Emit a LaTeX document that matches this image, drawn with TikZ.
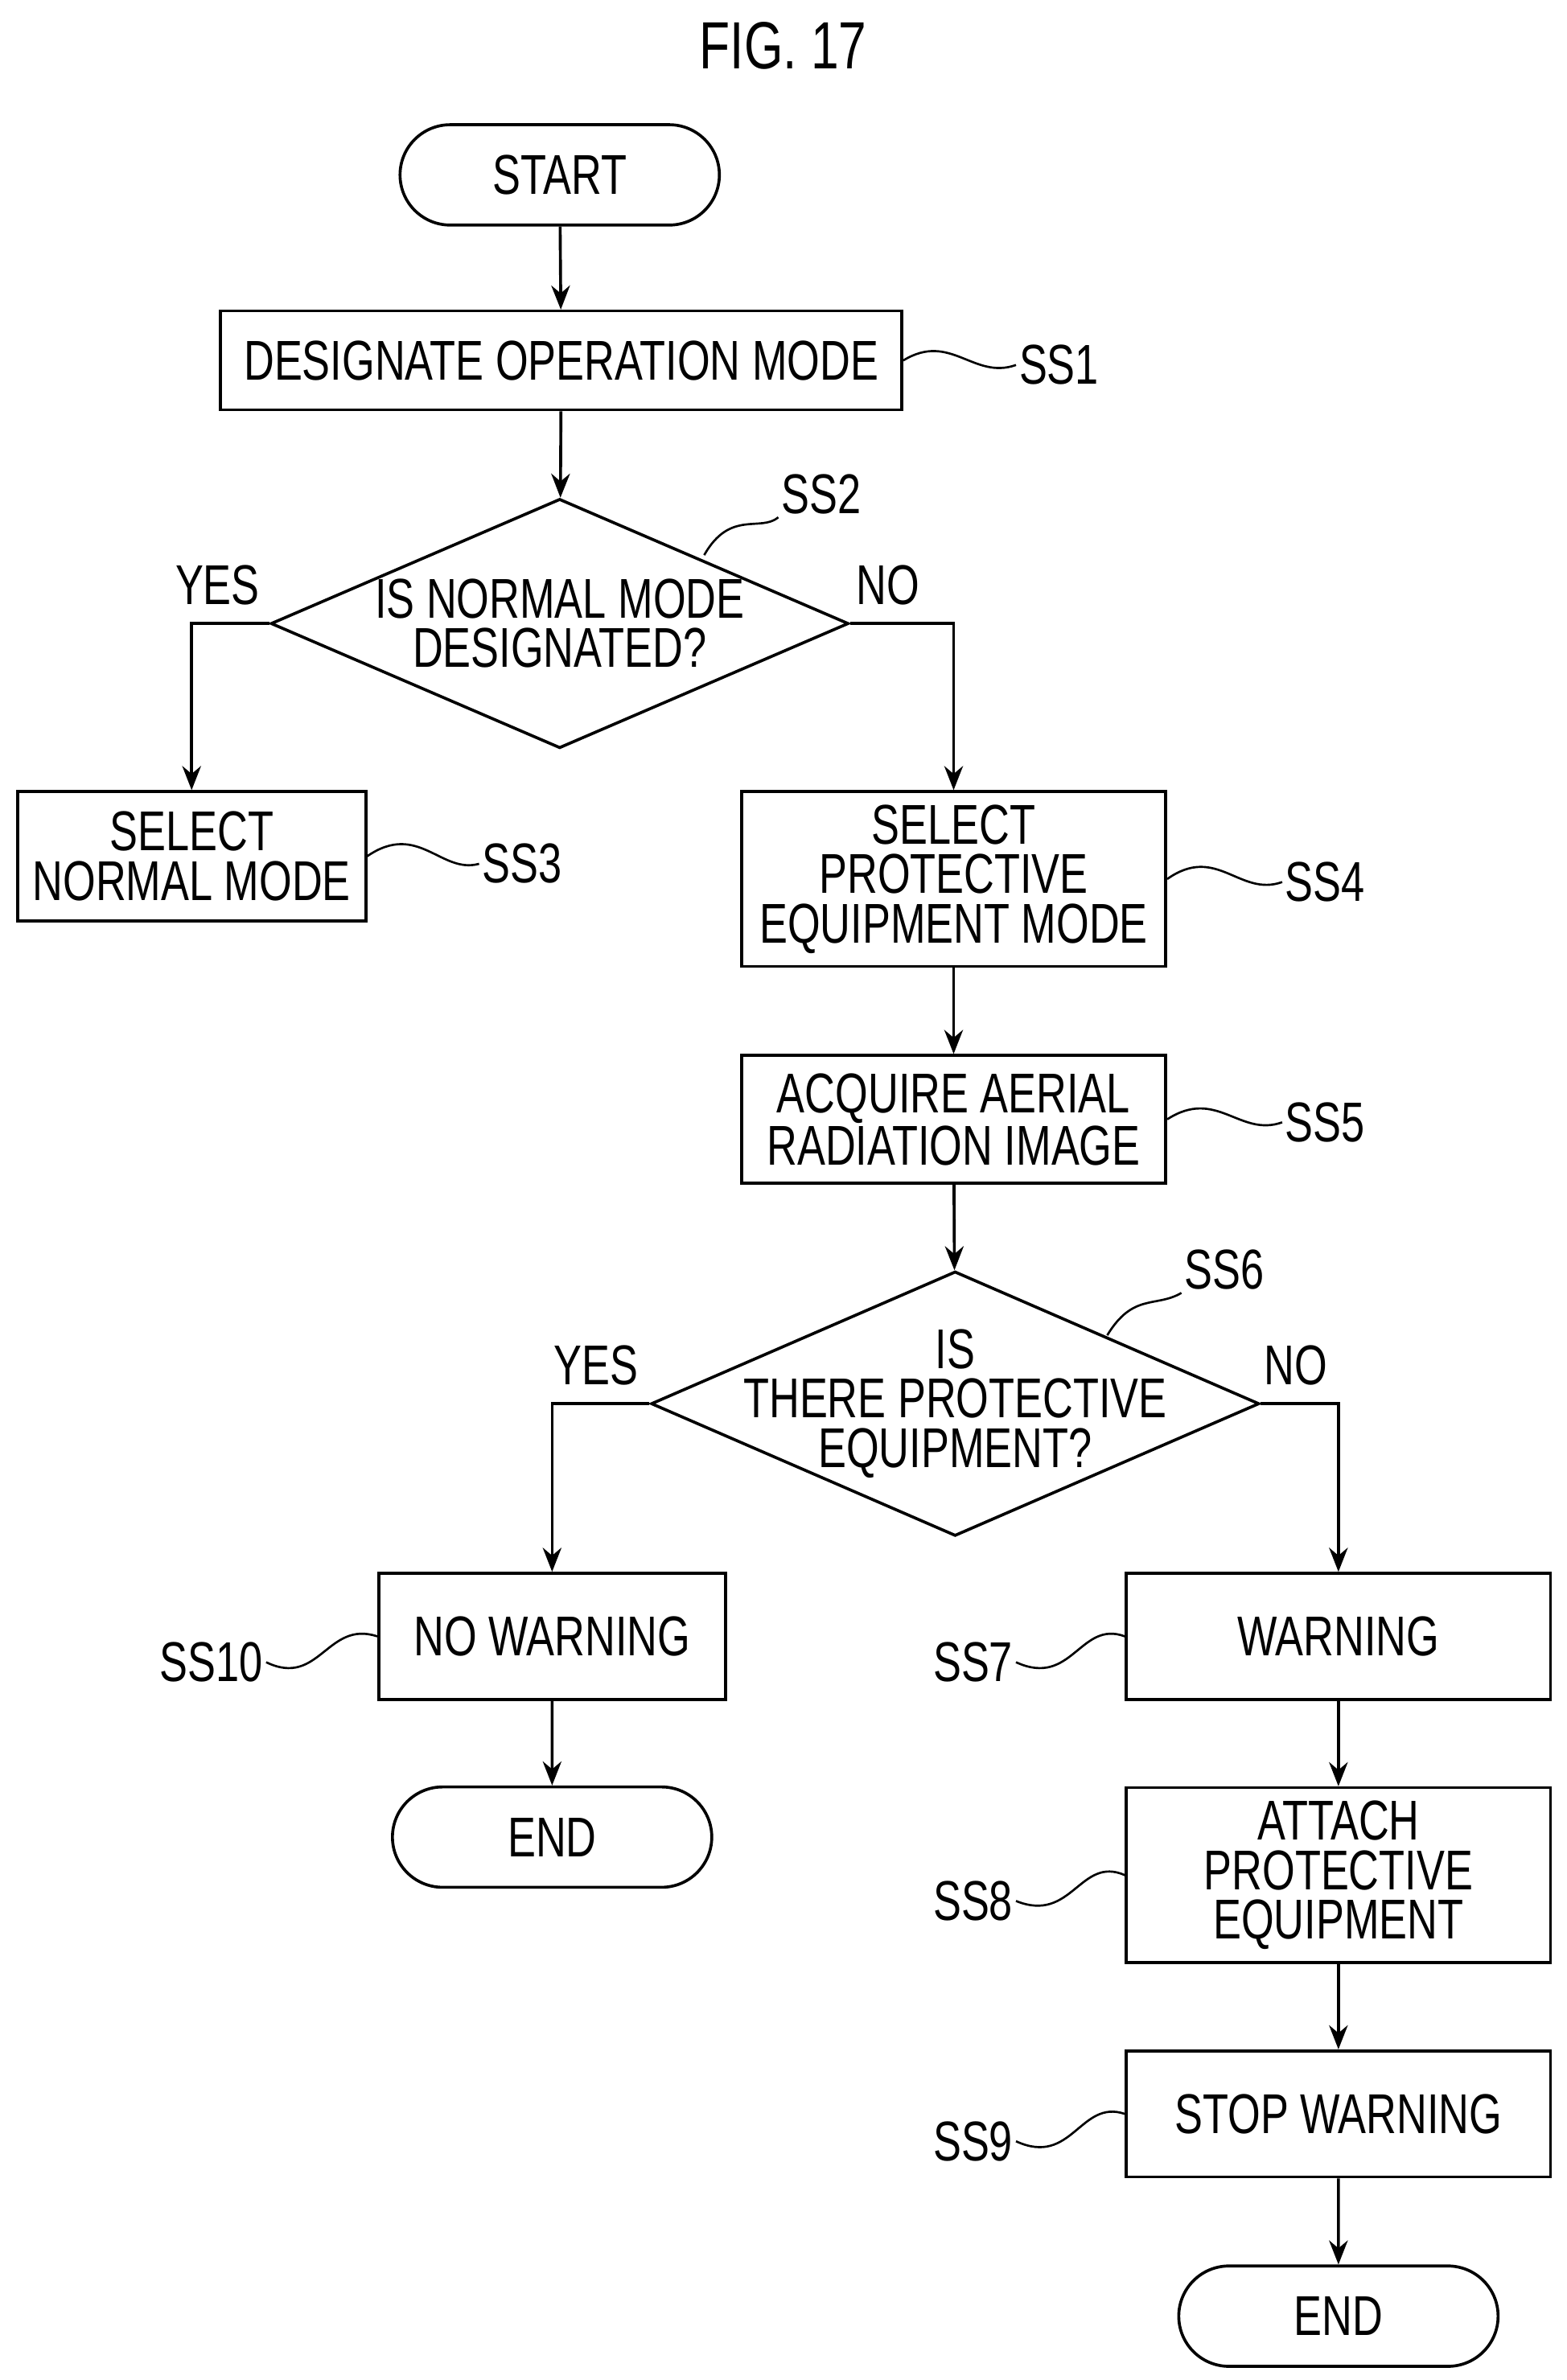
\documentclass[tikz,border=0pt]{standalone}
\usepackage{fontspec}
\setmainfont{Liberation Sans}[FakeStretch=0.75]
\usetikzlibrary{shapes.geometric,shapes.misc,arrows.meta,positioning}
\tikzset{
  box/.style={draw, line width=1.1pt, align=center, inner sep=0pt},
  term/.style={box, rounded rectangle, minimum width=4.2cm, minimum height=1.32cm},
  dec/.style={box, diamond, aspect=2.3, minimum width=7.6cm, minimum height=3.28cm, inner sep=-0.5cm},
  flow/.style={line width=1.1pt, -{Stealth[length=9pt,width=7pt]}},
  squig/.style={line width=0.8pt},
  lbl/.style={inner sep=1pt}
}
\begin{document}
\begin{tikzpicture}[x=0.02cm,y=-0.02cm,font=\fontsize{21}{18.5}\selectfont]
\useasboundingbox (0,0) rectangle (1030,1565);
\node at (515,30) {\fontsize{25}{25}\selectfont FIG. 17};

% nodes
\node[term] (start) at (368,115) {START};
\node[box, minimum width=8.96cm, minimum height=1.3cm] (ss1) at (369,237) {DESIGNATE OPERATION MODE};
\node[dec] (ss2) at (368,410) {IS NORMAL MODE\\DESIGNATED?};
\node[box, minimum width=4.58cm, minimum height=1.7cm] (ss3) at (126,563) {SELECT\\NORMAL MODE};
\node[box, minimum width=5.58cm, minimum height=2.3cm] (ss4) at (627,578) {SELECT\\PROTECTIVE\\EQUIPMENT MODE};
\node[box, minimum width=5.58cm, minimum height=1.68cm] (ss5) at (627,736) {ACQUIRE AERIAL\\RADIATION IMAGE};
\node[dec, minimum width=8cm, minimum height=3.48cm, inner sep=-1.2cm] (ss6) at (628,923) {IS\\THERE PROTECTIVE\\EQUIPMENT?};
\node[box, minimum width=4.56cm, minimum height=1.66cm] (ss10) at (363,1076) {NO WARNING};
\node[term] (end1) at (363,1208) {END};
\node[box, minimum width=5.58cm, minimum height=1.66cm] (ss7) at (880,1076) {WARNING};
\node[box, minimum width=5.58cm, minimum height=2.3cm] (ss8) at (880,1233) {ATTACH\\PROTECTIVE\\EQUIPMENT};
\node[box, minimum width=5.58cm, minimum height=1.66cm] (ss9) at (880,1390) {STOP WARNING};
\node[term] (end2) at (880,1523) {END};

% connectors
\draw[flow] (start) -- (ss1);
\draw[flow] (ss1) -- (ss2);
\draw[flow] (ss2.west) -| (ss3.north);
\draw[flow] (ss2.east) -| (ss4.north);
\draw[flow] (ss4) -- (ss5);
\draw[flow] (ss5) -- (ss6);
\draw[flow] (ss6.west) -| (ss10.north);
\draw[flow] (ss6.east) -| (ss7.north);
\draw[flow] (ss10) -- (end1);
\draw[flow] (ss7) -- (ss8);
\draw[flow] (ss8) -- (ss9);
\draw[flow] (ss9) -- (end2);

% yes / no
\node at (143,385) {YES};
\node at (584,385) {NO};
\node at (392,898) {YES};
\node at (852,898) {NO};

% step labels
\node[lbl, anchor=west] (l1) at (668,240) {SS1};
\node[lbl] (l2) at (540,325) {SS2};
\node[lbl, anchor=west] (l3) at (315,568) {SS3};
\node[lbl, anchor=west] (l4) at (843,580) {SS4};
\node[lbl, anchor=west] (l5) at (843,738) {SS5};
\node[lbl] (l6) at (805,835) {SS6};
\node[lbl, anchor=east] (l10) at (175,1093) {SS10};
\node[lbl, anchor=east] (l7) at (668,1093) {SS7};
\node[lbl, anchor=east] (l8) at (668,1250) {SS8};
\node[lbl, anchor=east] (l9) at (668,1408) {SS9};

\draw[squig] (ss1.east) .. controls (625,218) and (640,250) .. (l1.west);
\draw[squig] (463,365) .. controls (480,335) and (500,350) .. (l2.south west);
\draw[squig] (ss3.east) .. controls (275,540) and (290,575) .. (l3.west);
\draw[squig] (ss4.east) .. controls (800,555) and (815,590) .. (l4.west);
\draw[squig] (ss5.east) .. controls (800,715) and (815,748) .. (l5.west);
\draw[squig] (728,878) .. controls (745,850) and (760,860) .. (l6.south west);
\draw[squig] (l10.east) .. controls (210,1110) and (215,1065) .. (ss10.west);
\draw[squig] (l7.east) .. controls (705,1110) and (710,1065) .. (ss7.west);
\draw[squig] (l8.east) .. controls (705,1265) and (710,1220) .. (ss8.west);
\draw[squig] (l9.east) .. controls (705,1425) and (710,1380) .. (ss9.west);
\end{tikzpicture}
\end{document}
